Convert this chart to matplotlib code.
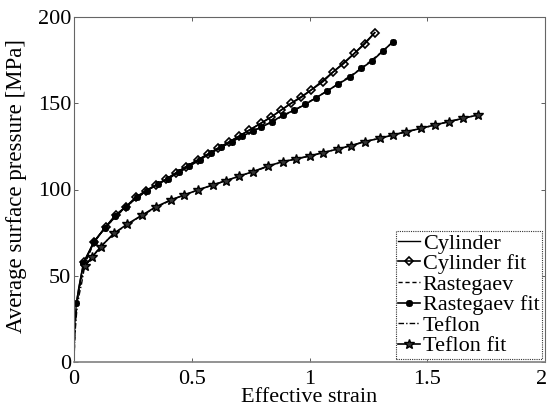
import matplotlib
matplotlib.use("Agg")
import matplotlib.pyplot as plt
from matplotlib.transforms import ScaledTranslation

plt.rcParams['font.family'] = ['Liberation Serif', 'DejaVu Serif']
plt.rcParams['mathtext.fontset'] = 'stix'

# ---- data ----
cyl_x = [0, 0.002, 0.005, 0.01, 0.02, 0.03, 0.043, 0.085, 0.135, 0.22, 0.305, 0.39,
         0.475, 0.567, 0.66, 0.745, 0.837, 0.922, 1.007, 1.099, 1.191, 1.277]
cyl_y = [0, 16, 25, 34, 43, 50, 58, 69.8, 78.4, 90, 99.3, 105.9,
         113.2, 120.4, 127.7, 134.5, 142, 150, 157.7, 168, 179, 190.9]

cylfit_x = [0.043, 0.085, 0.135, 0.177, 0.22, 0.262, 0.305, 0.348, 0.39, 0.433,
            0.475, 0.525, 0.567, 0.61, 0.66, 0.702, 0.745, 0.794, 0.837, 0.879,
            0.922, 0.965, 1.007, 1.057, 1.099, 1.145, 1.191, 1.234, 1.277]
cylfit_y = [58, 69.8, 78.4, 85.2, 90, 95.5, 99.3, 102.6, 105.9, 109.7,
            113.2, 117.1, 120.4, 123.9, 127.7, 131, 134.5, 138.4, 142, 146,
            150, 153.4, 157.7, 162.5, 168, 173, 179, 184.3, 190.9]

ras_x = [0, 0.003, 0.007, 0.012, 0.022, 0.033, 0.045, 0.086, 0.13, 0.22, 0.31, 0.4,
         0.49, 0.58, 0.67, 0.76, 0.841, 0.936, 1.028, 1.12, 1.22, 1.312, 1.355]
ras_y = [0, 14, 24, 33, 42, 49, 56.5, 69.5, 77.6, 90, 99.4, 106.3,
         113.5, 121, 127.8, 134, 139.3, 146, 153.2, 161, 170.2, 180.3, 185.7]

rasfit_x = [0.01, 0.04, 0.086, 0.13, 0.175, 0.22, 0.266, 0.31, 0.355, 0.4, 0.446,
            0.49, 0.535, 0.58, 0.625, 0.67, 0.715, 0.76, 0.794, 0.841, 0.886,
            0.936, 0.983, 1.028, 1.074, 1.12, 1.17, 1.22, 1.267, 1.312, 1.355]
rasfit_y = [34, 57.5, 69.6, 77.6, 84.8, 90, 95.4, 99.4, 103, 106.3, 110.1,
            113.6, 117.3, 121, 124.5, 127.8, 130.9, 134, 136, 139.3, 143,
            146, 149.4, 153.2, 157, 161, 165, 170.2, 174.7, 180.3, 185.7]

tef_x = [0, 0.003, 0.007, 0.012, 0.022, 0.033, 0.045, 0.078, 0.113, 0.17, 0.29,
         0.411, 0.525, 0.645, 0.759, 0.886, 1.0, 1.12, 1.234, 1.355, 1.475,
         1.591, 1.716]
tef_y = [0, 13, 22, 30, 39, 46, 55.5, 61, 66.8, 74.6, 85.2,
         93.9, 99.7, 105.1, 110.3, 116.1, 119.4, 123.5, 127.7, 131.6, 135.5,
         139.3, 143.2]

teffit_x = [0.045, 0.078, 0.113, 0.17, 0.227, 0.29, 0.348, 0.411, 0.468, 0.525,
            0.589, 0.645, 0.702, 0.759, 0.823, 0.886, 0.943, 1.0, 1.057, 1.12,
            1.177, 1.234, 1.298, 1.355, 1.411, 1.475, 1.532, 1.591, 1.652, 1.716]
teffit_y = [55.5, 61, 66.8, 74.6, 80, 85.2, 90, 93.9, 96.8, 99.7,
            102.6, 105.1, 107.8, 110.3, 113.6, 116.1, 117.7, 119.4, 121.3, 123.5,
            125.4, 127.7, 129.7, 131.6, 133.5, 135.5, 137.4, 139.3, 141.3, 143.2]

labels = ['Cylinder', 'Cylinder fit', 'Rastegaev', 'Rastegaev fit', 'Teflon', 'Teflon fit']
xticks = [0, 0.5, 1, 1.5, 2]
xticklabels = ['0', '0.5', '1', '1.5', '2']
yticks = [0, 50, 100, 150, 200]

# ---- figure ----
fig = plt.figure(figsize=(5.49, 4.09), dpi=100)
ax = fig.add_axes([74/549, 47/409, 471/549, 345/409])

k = 'black'
ax.plot(cyl_x, cyl_y, '-', color=k, lw=1.0, label=labels[0])
ax.plot(cylfit_x, cylfit_y, '-', color=k, lw=1.2, marker='D', ms=4.5,
        mfc='none', mec=k, mew=1.2, label=labels[1])
ax.plot(ras_x, ras_y, '--', color=k, lw=1.0, dashes=(3, 2), label=labels[2])
ax.plot(rasfit_x, rasfit_y, '-', color=k, lw=1.2, marker=(8, 2, 0), ms=5,
        mec=k, mew=1.3, label=labels[3])
ax.plot(tef_x, tef_y, '-.', color=k, lw=1.0, dashes=(4, 1.5, 1, 1.5), label=labels[4])
ax.plot(teffit_x, teffit_y, '-', color=k, lw=1.2, marker='*', ms=7.5,
        mfc='#333333', mec=k, mew=1.0, label=labels[5])

ax.set_xlim(0, 2)
ax.set_ylim(0, 200)
ax.set_xticks(xticks)
ax.set_xticklabels(xticklabels)
ax.set_yticks(yticks)
ax.tick_params(direction='in', length=3, width=0.6, labelsize=16,
               top=True, right=True, color='#444444')
ax.tick_params(axis='x', pad=6)
ax.tick_params(axis='y', pad=2)

# nudge the last x tick label slightly so it stays inside the canvas
last = ax.get_xticklabels()[-1]
last.set_transform(last.get_transform() + ScaledTranslation(-3/100, 0, fig.dpi_scale_trans))

for side in ['top', 'left', 'right']:
    ax.spines[side].set_linestyle((0, (1, 1)))
    ax.spines[side].set_color('#666666')
    ax.spines[side].set_linewidth(0.8)
ax.spines['bottom'].set_color('#808080')
ax.spines['bottom'].set_linewidth(1.2)

ax.set_xlabel('Effective strain', fontsize=16, labelpad=-1)
ax.set_ylabel('Average surface pressure [MPa]', fontsize=16.5)
ax.yaxis.set_label_coords(-0.1, 0.51)

leg = ax.legend(loc='lower right', fontsize=16, handlelength=1.0, handletextpad=0.1,
                borderpad=0.1, labelspacing=0.0, borderaxespad=0.15,
                fancybox=False, framealpha=1)
leg.get_frame().set_edgecolor('#333333')
leg.get_frame().set_linewidth(0.8)
leg.get_frame().set_linestyle((0, (1, 1)))

fig.savefig('out.png', dpi=100)
